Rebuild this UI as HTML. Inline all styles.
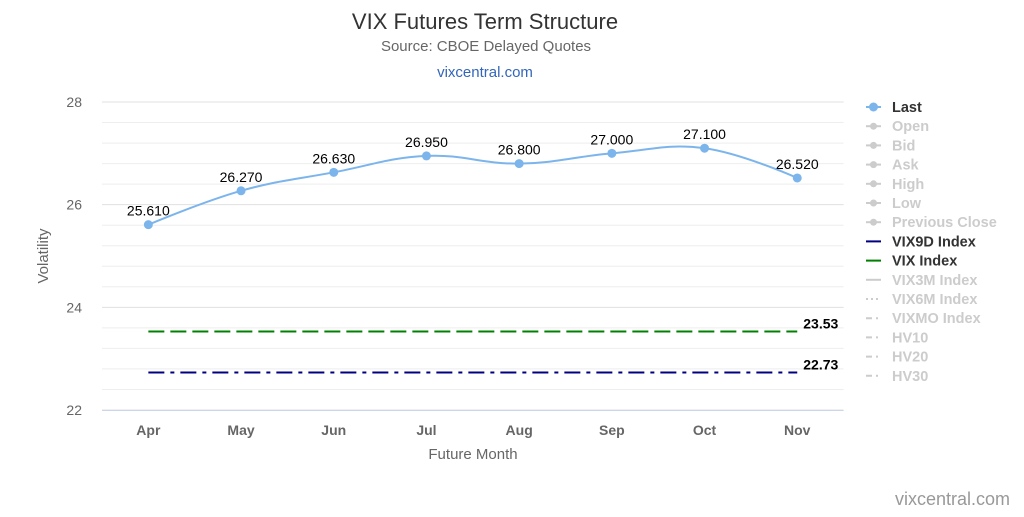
<!DOCTYPE html>
<html><head><meta charset="utf-8"><style>
body{margin:0;background:#fff;font-family:"Liberation Sans",sans-serif}
svg text{font-family:"Liberation Sans",sans-serif}
</style></head><body>
<svg id="c" width="1024" height="512" viewBox="0 0 1024 512">
<text x="485" y="29" text-anchor="middle" font-size="22" fill="#333">VIX Futures Term Structure</text>
<text x="486" y="51" text-anchor="middle" font-size="15" fill="#666">Source: CBOE Delayed Quotes</text>
<text x="485" y="77" text-anchor="middle" font-size="15" fill="#3366bb">vixcentral.com</text>
<text x="1010" y="505" text-anchor="end" font-size="18" fill="#999">vixcentral.com</text>
<g id="grid"></g><g id="axes"></g><g id="series"></g><g id="legend"></g>
<text x="48" y="256" transform="rotate(-90 48 256)" text-anchor="middle" font-size="15" fill="#666">Volatility</text>
<text x="473" y="459" text-anchor="middle" font-size="15" fill="#666">Future Month</text>
</svg>
<script>
const categories=["Apr","May","Jun","Jul","Aug","Sep","Oct","Nov"];
const lastValues=[25.61,26.27,26.63,26.95,26.8,27.0,27.1,26.52];
const vixIndex=23.53;
const vix9dIndex=22.73;
const yTicks=[22,24,26,28];
const legendNames=["Last","Open","Bid","Ask","High","Low","Previous Close","VIX9D Index","VIX Index","VIX3M Index","VIX6M Index","VIXMO Index","HV10","HV20","HV30"];
const NS="http://www.w3.org/2000/svg";
const L=102,R=843.6,T=102,B=410,yMin=22,yMax=28;
const bw=(R-L)/categories.length;
const xs=i=>L+bw*(i+0.5);
const ys=v=>B-(v-yMin)/(yMax-yMin)*(B-T);
function mk(tag,attrs,parent,txt){const e=document.createElementNS(NS,tag);for(const k in attrs)e.setAttribute(k,attrs[k]);if(txt!==undefined)e.textContent=txt;parent.appendChild(e);return e;}
const grid=document.getElementById('grid'),axes=document.getElementById('axes'),ser=document.getElementById('series'),leg=document.getElementById('legend');
for(let v=yMin;v<=yMax+1e-9;v+=0.4){const y=ys(v);const isMajor=Math.abs(v-Math.round(v/2)*2)<1e-6;
const g=mk('line',{x1:L,x2:R,y1:y,y2:y,stroke:isMajor?'#e0e0e0':'#eeeeee','stroke-width':1},grid);

}
yTicks.forEach(t=>{const e=mk('text',{x:L-20,y:ys(t)+5,'text-anchor':'end','font-size':14,fill:'#666'},axes,t);

});
const ax=mk('line',{x1:L,x2:R,y1:B+0.5,y2:B+0.5,stroke:'#ccd6eb'},axes);


categories.forEach((c,i)=>{const e=mk('text',{x:xs(i),y:435,'text-anchor':'middle','font-size':14,'font-weight':'bold',fill:'#666'},axes,c);

});
// index lines
const l1=mk('line',{x1:xs(0),x2:xs(7),y1:ys(vixIndex),y2:ys(vixIndex),stroke:'#008000','stroke-width':2,'stroke-dasharray':'16 6'},ser);


const t1=mk('text',{x:xs(7)+6,y:ys(vixIndex)-3,'font-size':14,'font-weight':'bold',fill:'#000'},ser,vixIndex.toFixed(2));


const l2=mk('line',{x1:xs(0),x2:xs(7),y1:ys(vix9dIndex),y2:ys(vix9dIndex),stroke:'#000080','stroke-width':2,'stroke-dasharray':'16 6 4 6'},ser);


const t2=mk('text',{x:xs(7)+6,y:ys(vix9dIndex)-3,'font-size':14,'font-weight':'bold',fill:'#000'},ser,vix9dIndex.toFixed(2));


// spline
const pts=lastValues.map((v,i)=>[xs(i),ys(v)]);
let d='M'+pts[0][0]+','+pts[0][1];const sm=1.5;
function ctrl(i){const p=pts[i-1],c=pts[i],n=pts[i+1];if(!p||!n)return null;
let lx=(sm*c[0]+p[0])/(sm+1),ly=(sm*c[1]+p[1])/(sm+1),rx=(sm*c[0]+n[0])/(sm+1),ry=(sm*c[1]+n[1])/(sm+1);
const cor=((ry-ly)*(rx-c[0]))/(rx-lx)+c[1]-ry;ly+=cor;ry+=cor;return[[lx,ly],[rx,ry]];}
for(let i=1;i<pts.length;i++){const a=ctrl(i-1),b=ctrl(i);const c1=a?a[1]:pts[i-1];const c2=b?b[0]:pts[i];
d+=` C${c1[0]},${c1[1]} ${c2[0]},${c2[1]} ${pts[i][0]},${pts[i][1]}`;}
const path=mk('path',{d:d,fill:'none',stroke:'#7cb5ec','stroke-width':2},ser);


pts.forEach((p,i)=>{const c=mk('circle',{cx:p[0],cy:p[1],r:4.5,fill:'#7cb5ec'},ser);


const t=mk('text',{x:p[0],y:p[1]-9,'text-anchor':'middle','font-size':14,fill:'#000'},ser,lastValues[i].toFixed(3));

});
// legend
legendNames.forEach((n,i)=>{const y=107+i*19.2;const g=mk('g',{},leg);


let col='#ccc';if(i===0)col='#7cb5ec';if(i===7)col='#000080';if(i===8)col='#008000';
let dash='';if(i===10)dash='2 3';if(i>=11)dash='6 4 2 4';
mk('line',{x1:866,x2:881,y1:y,y2:y,stroke:col,'stroke-width':2,'stroke-dasharray':dash},g);
if(i<7)mk('circle',{cx:873.5,cy:y,r:i===0?4.5:3.5,fill:col},g);
mk('text',{x:892,y:y+5,'font-size':14.5,'font-weight':'bold',fill:(i===0||i===7||i===8)?'#333':'#ccc'},g,n);});
</script>
</body></html>
